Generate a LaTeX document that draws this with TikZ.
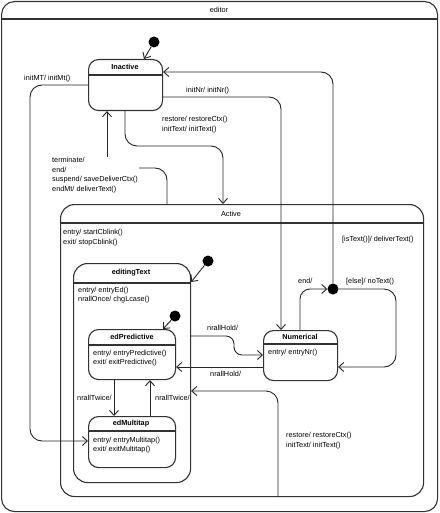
\documentclass[tikz,border=0pt]{standalone}
\usepackage{fontspec}
\setmainfont{Liberation Sans}
\usetikzlibrary{arrows.meta}
\tikzset{
  lbl/.style={anchor=west, inner sep=0pt, font=\fontsize{7.3}{9.6}\selectfont, text=black},
  ttl/.style={inner sep=0pt, font=\fontsize{7.3}{9}\selectfont},
  bttl/.style={inner sep=0pt, font=\fontsize{7.3}{9}\selectfont\bfseries},
  statebox/.style={draw=black!80, line width=1.1pt, inner sep=0pt, anchor=north west},
  hdr/.style={draw=black!80, line width=1.1pt},
  conn/.style={draw=black!85, line width=0.9pt},
  arr/.style={conn, -{Straight Barb[length=5pt,width=9pt]}},
  initdot/.style={circle, fill=black, inner sep=0pt, minimum size=11pt},
}
\begin{document}
\begin{tikzpicture}[x=1pt,y=-1pt]
\useasboundingbox (0,0) rectangle (439,513);
\fill[white] (0,0) rectangle (439,513);

% states
\node[statebox, rounded corners=13pt, minimum width=436pt, minimum height=510pt] (editor) at (1,1) {};
\draw[hdr] (editor.west |- 0,19) -- (editor.east |- 0,19);
\node[ttl] (editorT) at (219,10) {editor};

\node[statebox, rounded corners=10pt, minimum width=74pt, minimum height=51pt] (Inactive) at (88,59) {};
\draw[hdr] (Inactive.west |- 0,75) -- (Inactive.east |- 0,75);
\node[bttl] (InactiveT) at (125,67) {Inactive};

\node[statebox, rounded corners=14pt, minimum width=363pt, minimum height=292pt] (Active) at (60,204) {};
\draw[hdr] (Active.west |- 0,223) -- (Active.east |- 0,223);
\node[ttl] (ActiveT) at (231,214) {Active};
\node[lbl] (ActiveE1) at (63,233) {entry/ startCblink()};
\node[lbl] (ActiveE2) at (63,243) {exit/ stopCblink()};

\node[statebox, rounded corners=14pt, minimum width=117pt, minimum height=219pt] (editingText) at (73,263) {};
\draw[hdr] (editingText.west |- 0,283) -- (editingText.east |- 0,283);
\node[bttl] (editingTextT) at (131,273) {editingText};
\node[lbl] (edE1) at (78,291) {entry/ entryEd()};
\node[lbl] (edE2) at (78,300) {nrallOnce/ chgLcase()};

\node[statebox, rounded corners=10pt, minimum width=87pt, minimum height=50pt] (edPredictive) at (88,329) {};
\draw[hdr] (edPredictive.west |- 0,345) -- (edPredictive.east |- 0,345);
\node[bttl] (edPredictiveT) at (132,337) {edPredictive};
\node[lbl] (epE1) at (93,354) {entry/ entryPredictive()};
\node[lbl] (epE2) at (93,363) {exit/ exitPredictive()};

\node[statebox, rounded corners=10pt, minimum width=87pt, minimum height=51pt] (edMultitap) at (88,416) {};
\draw[hdr] (edMultitap.west |- 0,431) -- (edMultitap.east |- 0,431);
\node[bttl] (edMultitapT) at (131,424) {edMultitap};
\node[lbl] (emE1) at (93,441) {entry/ entryMultitap()};
\node[lbl] (emE2) at (93,450) {exit/ exitMultitap()};

\node[statebox, rounded corners=10pt, minimum width=74pt, minimum height=50pt] (Numerical) at (263,330) {};
\draw[hdr] (Numerical.west |- 0,344) -- (Numerical.east |- 0,344);
\node[bttl] (NumericalT) at (300,337) {Numerical};
\node[lbl] (nuE1) at (268,353) {entry/ entryNr()};

% initial pseudostates and junction
\node[initdot] (i0) at (154,42) {};
\node[initdot] (i1) at (208,261) {};
\node[initdot] (i2) at (175,316) {};
\node[initdot] (j) at (333,289) {};

% transitions
\draw[arr] (i0) -- (Inactive.north -| 144,0);
\draw[arr] (i1) -- (editingText.east |- 0,282);
\draw[arr] (i2) -- (edPredictive.north -| 163,0);

\draw[arr, rounded corners=12pt] (Inactive.west |- 0,85) -- (30,85) -- (30,441) -- (edMultitap.west |- 0,441);
\node[lbl] (lInitMT) at (24,79) {initMT/ initMt()};

\draw[arr, rounded corners=12pt] (Inactive.east |- 0,97) -- (281,97) -- (Numerical.north -| 281,0);
\node[lbl] (lInitNr) at (186,91) {initNr/ initNr()};

\draw[arr, rounded corners=12pt] (Inactive.south -| 125,0) -- (125,146) -- (223,146) -- (Active.north -| 223,0);
\node[lbl] (lRestore1) at (162,120) {restore/ restoreCtx()};
\node[lbl] (lInitText1) at (162,130) {initText/ initText()};

\node[lbl, anchor=north west, align=left] (lTerm) at (52,157) {terminate/\\end/\\suspend/ saveDeliverCtx()\\endMt/ deliverText()};
\draw[conn, rounded corners=12pt] (Active.north -| 167,0) -- (167,168) -- (139,168);
\draw[arr] (lTerm.north -| 107,0) -- (Inactive.south -| 107,0);

\draw[arr, rounded corners=12pt] (j) -- (333,72) -- (Inactive.east |- 0,72);
\node[lbl] (lIsText) at (342,240) {[isText()]/ deliverText()};

\draw[arr, rounded corners=10pt] (Numerical.north -| 300,0) -- (300,289) -- (j);
\node[lbl] (lEnd) at (298,281) {end/};

\draw[arr, rounded corners=12pt] (j) -- (396,289) -- (396,367) -- (Numerical.east |- 0,367);
\node[lbl] (lElse) at (346,282) {[else]/ noText()};

\draw[arr, rounded corners=8pt] (editingText.east |- 0,336) -- (234,336) -- (234,355) -- (Numerical.west |- 0,355);
\node[lbl] (lHold1) at (207,328) {nrallHold/};

\draw[arr] (Numerical.west |- 0,367) -- (edPredictive.east |- 0,367);
\node[lbl] (lHold2) at (210,374) {nrallHold/};

\draw[arr] (edPredictive.south -| 114,0) -- (edMultitap.north -| 114,0);
\node[lbl] (lTw1) at (77,398) {nrallTwice/};
\draw[arr] (edMultitap.north -| 150,0) -- (edPredictive.south -| 150,0);
\node[lbl] (lTw2) at (155,398) {nrallTwice/};

\draw[arr, rounded corners=12pt] (Active.south -| 278,0) -- (278,391) -- (editingText.east |- 0,391);
\node[lbl] (lRestore2) at (286,436) {restore/ restoreCtx()};
\node[lbl] (lInitText2) at (286,446) {initText/ initText()};
\end{tikzpicture}
\end{document}
